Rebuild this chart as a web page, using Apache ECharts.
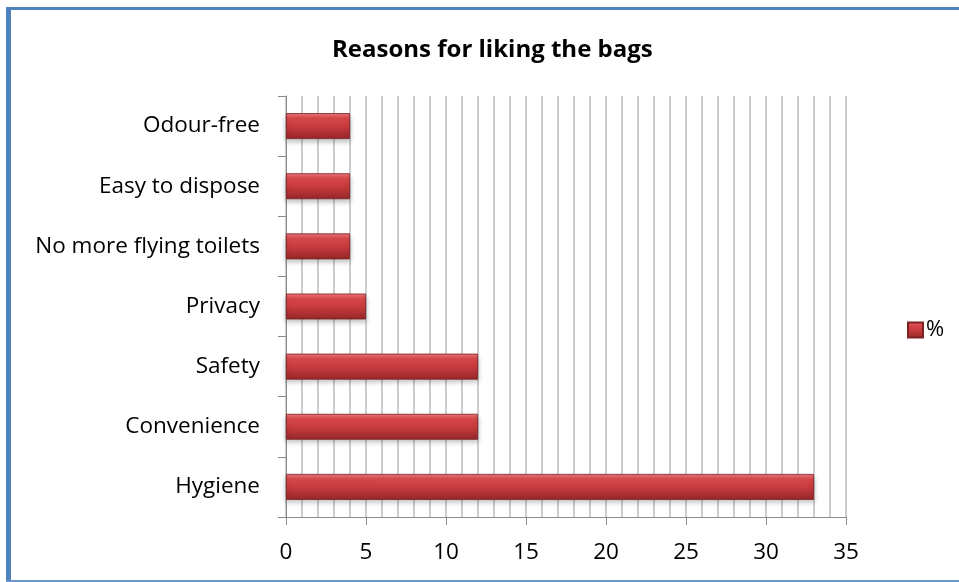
<!DOCTYPE html>
<html>
<head>
<meta charset="utf-8">
<script src="https://cdn.jsdelivr.net/npm/echarts@6/dist/echarts.min.js"></script>
<style>
  html, body { margin: 0; padding: 0; background: #ffffff; }
  #chart { width: 959px; height: 582px; }
</style>
</head>
<body>
<div id="chart"></div>
<script>
// Reasons, listed bottom to top as they appear on the category axis
const reasons = ['Hygiene', 'Convenience', 'Safety', 'Privacy', 'No more flying toilets', 'Easy to dispose', 'Odour-free'];
// Share of respondents, %
const percents = [33, 12, 12, 5, 4, 4, 4];
const seriesName = '%';
const chartTitle = 'Reasons for liking the bags';

const font = '"Open Sans", "Liberation Sans", sans-serif';

// Bevelled red fill
const barFill = new echarts.graphic.LinearGradient(0, 0, 0, 1, [
  { offset: 0, color: '#ee7a7c' },
  { offset: 0.2, color: '#d9484b' },
  { offset: 0.55, color: '#c5393c' },
  { offset: 1, color: '#952729' }
]);

const chart = echarts.init(document.getElementById('chart'), null, { renderer: 'canvas' });

chart.setOption({
  backgroundColor: '#ffffff',
  animation: false,
  title: {
    text: chartTitle,
    left: 327,
    top: 33,
    textStyle: { fontFamily: font, fontSize: 24, fontWeight: 'bold', color: '#000' }
  },
  legend: {
    data: [seriesName],
    left: 902,
    top: 314,
    orient: 'vertical',
    icon: 'rect',
    itemWidth: 15,
    itemHeight: 15,
    itemGap: 6,
    textStyle: { fontFamily: font, fontSize: 22, color: '#000', padding: [0, 0, 0, -2] }
  },
  grid: { left: 286, right: 113, top: 96, bottom: 65, containLabel: false },
  xAxis: {
    type: 'value',
    min: 0,
    max: 35,
    interval: 5,
    axisLine: { show: true, lineStyle: { color: '#8c8c8c', width: 1 } },
    axisTick: { show: true, length: 8, lineStyle: { color: '#8c8c8c' } },
    axisLabel: { fontFamily: font, fontSize: 22.5, color: '#000', margin: 24 },
    splitLine: { show: true, lineStyle: { color: '#bdbdbd', width: 1.5 } },
    minorTick: { show: false, splitNumber: 5 },
    minorSplitLine: { show: true, lineStyle: { color: '#bdbdbd', width: 1.5 } }
  },
  yAxis: {
    type: 'category',
    data: reasons,
    axisLine: { show: true, lineStyle: { color: '#8c8c8c', width: 1 } },
    axisTick: { show: true, length: 8, lineStyle: { color: '#8c8c8c' } },
    axisLabel: { fontFamily: font, fontSize: 22.5, color: '#000', margin: 26 }
  },
  series: [{
    name: seriesName,
    type: 'bar',
    data: percents,
    barCategoryGap: '57%',
    itemStyle: {
      color: barFill,
      borderColor: '#7d2022',
      borderWidth: 0.8,
      shadowColor: 'rgba(0,0,0,0.25)',
      shadowBlur: 5,
      shadowOffsetY: 3
    }
  }],
  graphic: [
    // blue frame around the chart area
    { type: 'rect', left: 6, top: 7, shape: { width: 5, height: 575 }, style: { fill: '#4f81bd' }, z: 100 },
    { type: 'rect', left: 6, top: 7, shape: { width: 953, height: 3 }, style: { fill: '#4f81bd' }, z: 100 },
    { type: 'rect', left: 6, top: 580, shape: { width: 953, height: 2 }, style: { fill: '#6a95c8' }, z: 100 }
  ]
});
</script>
</body>
</html>
